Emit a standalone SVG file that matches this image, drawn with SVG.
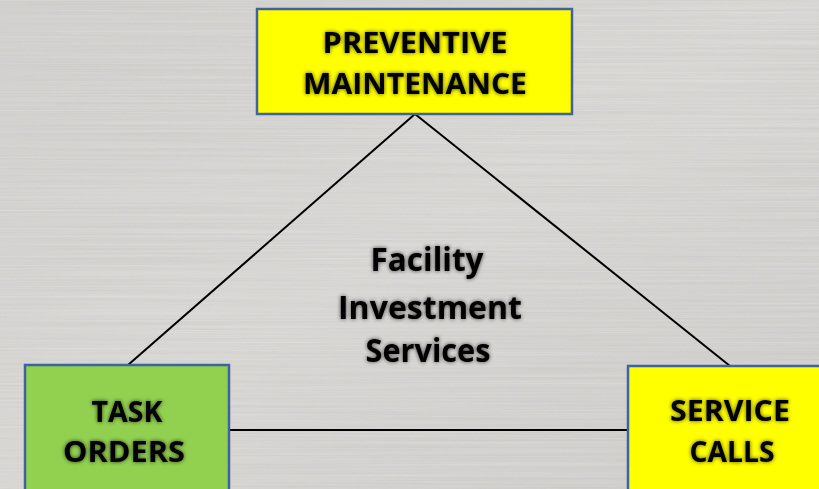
<svg xmlns="http://www.w3.org/2000/svg" width="819" height="489" viewBox="0 0 819 489">
<defs>
<style>
.box{stroke:#3F62A0;stroke-width:2.5}
.yel{fill:#FFFF00}
.grn{fill:#92D050}
.lbl{font-family:"Open Sans","Liberation Sans",sans-serif;font-weight:bold;fill:#000;text-anchor:middle;filter:url(#glow)}
.conn{stroke:#000;stroke-width:2;fill:none}
</style>
<linearGradient id="bg" x1="0" y1="0" x2="1" y2="1">
<stop offset="0" stop-color="#cfcdca"/>
<stop offset="0.5" stop-color="#d6d4d1"/>
<stop offset="1" stop-color="#cbc9c6"/>
</linearGradient>
<filter id="brush" x="0" y="0" width="100%" height="100%">
<feTurbulence type="fractalNoise" baseFrequency="0.003 0.6" numOctaves="3" seed="4" result="n"/>
<feColorMatrix in="n" type="matrix" values="0 0 0 0 1  0 0 0 0 1  0 0 0 0 1  0.9 0 0 0 -0.2" result="w"/>
<feComposite in="w" in2="SourceGraphic" operator="in"/>
</filter>
<filter id="brush2" x="0" y="0" width="100%" height="100%">
<feTurbulence type="fractalNoise" baseFrequency="0.004 0.5" numOctaves="2" seed="9" result="n"/>
<feColorMatrix in="n" type="matrix" values="0 0 0 0 0.45  0 0 0 0 0.45  0 0 0 0 0.45  0.7 0 0 0 -0.25"/>
<feComposite in2="SourceGraphic" operator="in"/>
</filter>
<filter id="glow" x="-20%" y="-40%" width="140%" height="180%">
<feGaussianBlur in="SourceAlpha" stdDeviation="2.2" result="b"/>
<feComponentTransfer in="b" result="s"><feFuncA type="linear" slope="0.7"/></feComponentTransfer>
<feMerge><feMergeNode in="s"/><feMergeNode in="SourceGraphic"/></feMerge>
</filter>
</defs>
<rect width="819" height="489" fill="url(#bg)"/>
<rect width="819" height="489" fill="#000" filter="url(#brush)" opacity="0.35"/>
<rect width="819" height="489" fill="#000" filter="url(#brush2)" opacity="0.35"/>

<g id="connectors">
<line class="conn" x1="415" y1="114" x2="128" y2="365"/>
<line class="conn" x1="415" y1="114" x2="730" y2="366"/>
<line class="conn" x1="229" y1="430" x2="627" y2="430"/>
</g>

<g id="center-label">
<text class="lbl" style="font-size:32px" x="427" y="271" textLength="113" lengthAdjust="spacingAndGlyphs">Facility</text>
<text class="lbl" style="font-size:32px" x="430" y="319" textLength="184" lengthAdjust="spacingAndGlyphs">Investment</text>
<text class="lbl" style="font-size:32px" x="428" y="362" textLength="125" lengthAdjust="spacingAndGlyphs">Services</text>
</g>

<g id="preventive-maintenance">
<rect class="box yel" x="257" y="9" width="315" height="105"/>
<text class="lbl" style="font-size:29px" x="415" y="53" textLength="185" lengthAdjust="spacingAndGlyphs">PREVENTIVE</text>
<text class="lbl" style="font-size:29px" x="415" y="94" textLength="224" lengthAdjust="spacingAndGlyphs">MAINTENANCE</text>
</g>

<g id="task-orders">
<rect class="box grn" x="25" y="365" width="204" height="130"/>
<text class="lbl" style="font-size:29px" x="127" y="422" textLength="71" lengthAdjust="spacingAndGlyphs">TASK</text>
<text class="lbl" style="font-size:29px" x="124" y="462" textLength="122" lengthAdjust="spacingAndGlyphs">ORDERS</text>
</g>

<g id="service-calls">
<rect class="box yel" x="628" y="366" width="200" height="130"/>
<text class="lbl" style="font-size:29px" x="730" y="421" textLength="120" lengthAdjust="spacingAndGlyphs">SERVICE</text>
<text class="lbl" style="font-size:29px" x="732" y="462" textLength="85" lengthAdjust="spacingAndGlyphs">CALLS</text>
</g>
</svg>
